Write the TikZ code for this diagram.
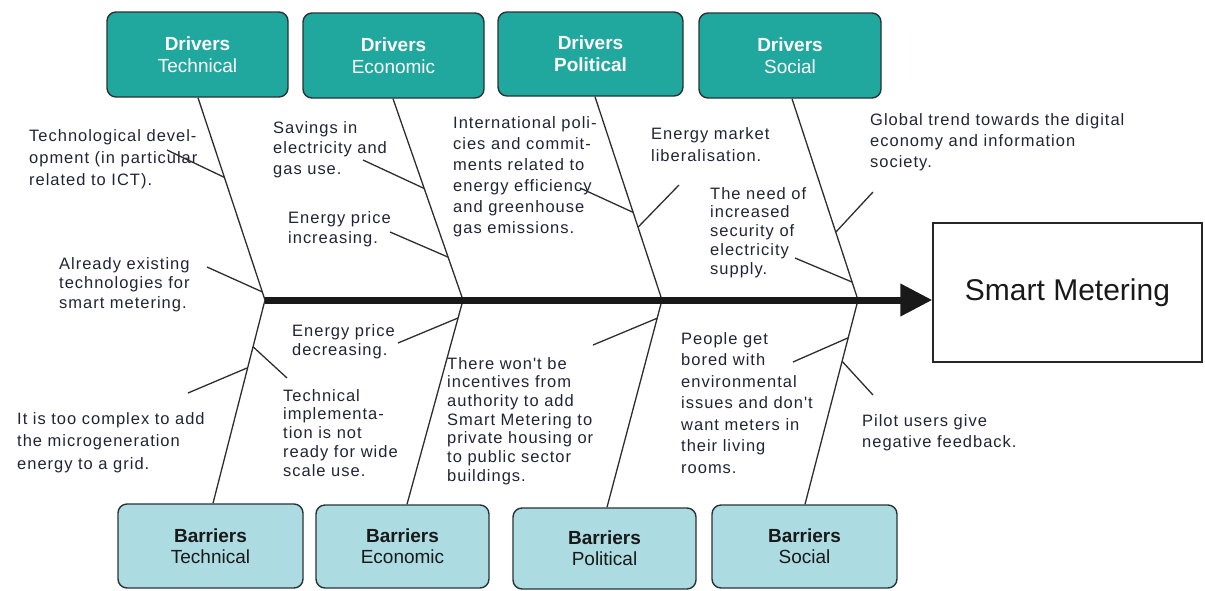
\documentclass[tikz,border=0pt]{standalone}
\usepackage{fontspec}
\setmainfont{Liberation Sans}
\newfontfamily\lblfont[LetterSpace=6]{Liberation Sans}
\usetikzlibrary{arrows.meta,calc}
\definecolor{teal1}{RGB}{32,168,158}
\definecolor{light1}{RGB}{172,220,226}
\definecolor{bord}{RGB}{40,50,55}
\definecolor{linec}{RGB}{45,45,45}
\definecolor{txt}{RGB}{35,35,55}
\tikzset{
  x=1pt, y=-1pt,
  drv/.style={draw=bord, line width=1.4pt, fill=teal1, rounded corners=9pt, text=white,
    align=center, font=\fontsize{19}{22}\selectfont, inner sep=0pt},
  bar/.style={draw=bord, line width=1.4pt, fill=light1, rounded corners=9pt, text=black!90,
    align=center, font=\fontsize{19}{21}\selectfont, inner sep=0pt},
  lbl/.style={align=left, anchor=north west, inner sep=0pt, text=txt},
  bone/.style={draw=linec, line width=1.3pt},
  spine/.style={draw=black!90, line width=7pt, -{Triangle[length=32pt,width=31pt]}},
}
\newcommand{\lf}[1]{\lblfont\fontsize{16.5}{#1}\selectfont}
\begin{document}
\begin{tikzpicture}
\useasboundingbox (0,0) rectangle (1205,590);
% driver boxes
\node[drv, minimum width=181pt, minimum height=85pt] (dt) at (197.5,54.5) {\textbf{Drivers}\\Technical};
\node[drv, minimum width=181pt, minimum height=85pt] (de) at (393.5,55.5) {\textbf{Drivers}\\Economic};
\node[drv, minimum width=185pt, minimum height=84pt] (dp) at (590.5,54) {\textbf{Drivers}\\\textbf{Political}};
\node[drv, minimum width=182pt, minimum height=85pt] (ds) at (790,55.5) {\textbf{Drivers}\\Social};
% barrier boxes
\node[bar, minimum width=185pt, minimum height=84pt] (bt) at (210.5,546) {\textbf{Barriers}\\Technical};
\node[bar, minimum width=173pt, minimum height=83pt] (be) at (402.5,546.5) {\textbf{Barriers}\\Economic};
\node[bar, minimum width=183pt, minimum height=81pt] (bp) at (604.5,548.5) {\textbf{Barriers}\\Political};
\node[bar, minimum width=185pt, minimum height=83pt] (bs) at (804.5,546.5) {\textbf{Barriers}\\Social};
% effect box
\node[draw=black!85, line width=1.3pt, minimum width=269pt, minimum height=139pt, inner sep=0pt,
  font=\fontsize{30}{34}\selectfont, text=black!90] (sm) at (1067.5,292.5) {Smart Metering};
% spine points
\coordinate (c1) at (265,300);
\coordinate (c2) at (463,300);
\coordinate (c3) at (662,300);
\coordinate (c4) at (858,300);
% bone start/end points on boxes
\coordinate (t1) at ([xshift=0.5pt]dt.south);
\coordinate (t2) at ([xshift=-0.5pt]de.south);
\coordinate (t3) at ([xshift=4.5pt]dp.south);
\coordinate (t4) at ([xshift=2pt]ds.south);
\coordinate (u1) at ([xshift=2.5pt]bt.north);
\coordinate (u2) at ([xshift=4.5pt]be.north);
\coordinate (u3) at ([xshift=2.5pt]bp.north);
\coordinate (u4) at ([xshift=0.5pt]bs.north);
% main bones
\draw[bone] (t1) -- (c1) -- (u1);
\draw[bone] (t2) -- (c2) -- (u2);
\draw[bone] (t3) -- (c3) -- (u3);
\draw[bone] (t4) -- (c4) -- (u4);
% spine
\draw[spine] (c1) -- (sm.west |- c1);
% labels top
\node[lbl, font=\lf{22}] (a) at (29,129) {Technological devel-\\opment (in particular\\related to ICT).};
\node[lbl, font=\lf{19.5}] (b) at (59,257) {Already existing\\technologies for\\smart metering.};
\node[lbl, font=\lf{20.5}] (c) at (273,121) {Savings in\\electricity and\\gas use.};
\node[lbl, font=\lf{20}] (d) at (288,211) {Energy price\\increasing.};
\node[lbl, font=\lf{21}] (e) at (453,116) {International poli-\\cies and commit-\\ments related to\\energy efficiency\\and greenhouse\\gas emissions.};
\node[lbl, font=\lf{22}] (f) at (651,127) {Energy market\\liberalisation.};
\node[lbl, font=\lf{18.8}] (g) at (710,187) {The need of\\increased\\security of\\electricity\\supply.};
\node[lbl, font=\lf{21}] (h) at (870,113) {Global trend towards the digital\\economy and information\\society.};
% labels bottom
\node[lbl, font=\lf{19}] (i) at (292,324) {Energy price\\decreasing.};
\node[lbl, font=\lf{22.5}] (j) at (17,412) {It is too complex to add\\the microgeneration\\energy to a grid.};
\node[lbl, font=\lf{18.8}] (k) at (283,389) {Technical\\implementa-\\tion is not\\ready for wide\\scale use.};
\node[lbl, font=\lf{18.7}] (l) at (447,357) {There won't be\\incentives from\\authority to add\\Smart Metering to\\private housing or\\to public sector\\buildings.};
\node[lbl, font=\lf{21.5}] (m) at (681,332) {People get\\bored with\\environmental\\issues and don't\\want meters in\\their living\\rooms.};
\node[lbl, font=\lf{21}] (n) at (862,414) {Pilot users give\\negative feedback.};
% sub-bone free ends
\coordinate (pa) at (167,150);
\coordinate (pb) at (207,267);
\coordinate (pc) at (363,160);
\coordinate (pd) at (390,232);
\coordinate (pe) at (580,188);
\coordinate (pf) at (679,185);
\coordinate (pg) at (795,258);
\coordinate (ph) at (873,192);
\coordinate (pi) at (398,343);
\coordinate (pj) at (188,393);
\coordinate (pk) at (287,378);
\coordinate (pl) at (593,345);
\coordinate (pm) at (793,362);
\coordinate (pn) at (873,395);
% sub-bones
\draw[bone] (pa) -- ($(t1)!0.394!(c1)$);
\draw[bone] (pb) -- ($(t1)!0.96!(c1)$);
\draw[bone] (pc) -- ($(t2)!0.446!(c2)$);
\draw[bone] (pd) -- ($(t2)!0.787!(c2)$);
\draw[bone] (pe) -- ($(t3)!0.569!(c3)$);
\draw[bone] (pf) -- ($(t3)!0.642!(c3)$);
\draw[bone] (pg) -- ($(t4)!0.911!(c4)$);
\draw[bone] (ph) -- ($(t4)!0.663!(c4)$);
\draw[bone] (pj) -- ($(c1)!0.333!(u1)$);
\draw[bone] (pk) -- ($(c1)!0.23!(u1)$);
\draw[bone] (pi) -- ($(c2)!0.088!(u2)$);
\draw[bone] (pl) -- ($(c3)!0.088!(u3)$);
\draw[bone] (pm) -- ($(c4)!0.185!(u4)$);
\draw[bone] (pn) -- ($(c4)!0.30!(u4)$);
\end{tikzpicture}
\end{document}
